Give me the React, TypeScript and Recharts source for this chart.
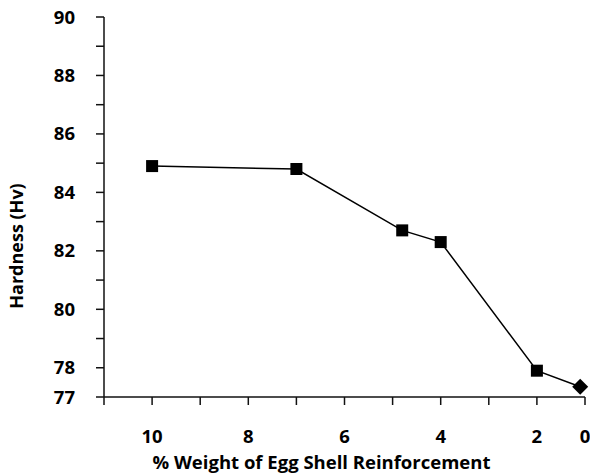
import { LineChart, Line, XAxis, YAxis } from 'recharts';

// x positions as plotted (axis runs 11 -> 1, the right end is labelled "0")
const reinforcement = [10, 7, 4.8, 4, 2, 1.1];
const hardness = [84.9, 84.8, 82.7, 82.3, 77.9, 77.35];

const xTicks = [11, 10, 9, 8, 7, 6, 5, 4, 3, 2, 1];
const xTickLabels: Record<number, string> = { 10: '10', 8: '8', 6: '6', 4: '4', 2: '2', 1: '0' };
const yTicks = [77, 78, 79, 80, 81, 82, 83, 84, 85, 86, 87, 88, 89, 90];
const yTickLabels: Record<number, string> = { 77: '77', 78: '78', 80: '80', 82: '82', 84: '84', 86: '86', 88: '88', 90: '90' };

const data = reinforcement.map((x, i) => ({ x, hv: hardness[i] }));

const font = '"Open Sans", sans-serif';
const tickStyle = { fill: '#000', fontSize: 18.5, fontWeight: 700, fontFamily: font };

function Marker(props: any) {
  const { cx, cy, index } = props;
  if (cx == null || cy == null) return null;
  if (index === data.length - 1) {
    const r = 8;
    return <polygon points={`${cx},${cy - r} ${cx + r},${cy} ${cx},${cy + r} ${cx - r},${cy}`} fill="#000" />;
  }
  return <rect x={cx - 6} y={cy - 6} width={12} height={12} fill="#000" />;
}

export default function App() {
  return (
    <div style={{ position: 'absolute', left: 0, top: 0, background: '#fff' }}>
      <LineChart width={590} height={474} data={data} margin={{ top: 17, right: 5, left: 0, bottom: 0 }}>
        <XAxis
          dataKey="x"
          type="number"
          domain={[1, 11]}
          reversed
          ticks={xTicks}
          interval={0}
          height={77}
          stroke="#111"
          strokeWidth={1.5}
          tickSize={8}
          tickMargin={25}
          tick={tickStyle}
          tickFormatter={(v: number) => xTickLabels[v] ?? ''}
          label={{
            content: (p: any) => (
              <text x={p.viewBox.x + p.viewBox.width / 2 - 23} y={469} textAnchor="middle"
                style={{ fontSize: 18.5, fontWeight: 700, fontFamily: font, fill: '#000' }}>
                % Weight of Egg Shell Reinforcement
              </text>
            ),
          }}
        />
        <XAxis xAxisId="top" orientation="top" dataKey="x" type="number" domain={[1, 11]} reversed
          height={0} tick={false} tickLine={false} stroke="#222" strokeWidth={1.5} />
        <YAxis
          type="number"
          domain={[77, 90]}
          ticks={yTicks}
          interval={0}
          width={104}
          stroke="#111"
          strokeWidth={1.5}
          tickSize={8}
          tickMargin={21}
          tick={tickStyle}
          tickFormatter={(v: number) => yTickLabels[v] ?? ''}
          label={{
            content: () => (
              <text x={16} y={246} textAnchor="middle" dominantBaseline="central" transform={`rotate(-90 16 246)`}
                style={{ fontSize: 18, fontWeight: 700, fontFamily: font, fill: '#000' }}>
                Hardness (Hv)
              </text>
            ),
          }}
        />
        <YAxis yAxisId="right" orientation="right" domain={[77, 90]} width={0} tick={false} tickLine={false}
          stroke="#222" strokeWidth={1.5} />
        <Line
          dataKey="hv"
          type="linear"
          stroke="#000"
          strokeWidth={1.5}
          dot={<Marker />}
          activeDot={false}
          isAnimationActive={false}
        />
      </LineChart>
    </div>
  );
}
